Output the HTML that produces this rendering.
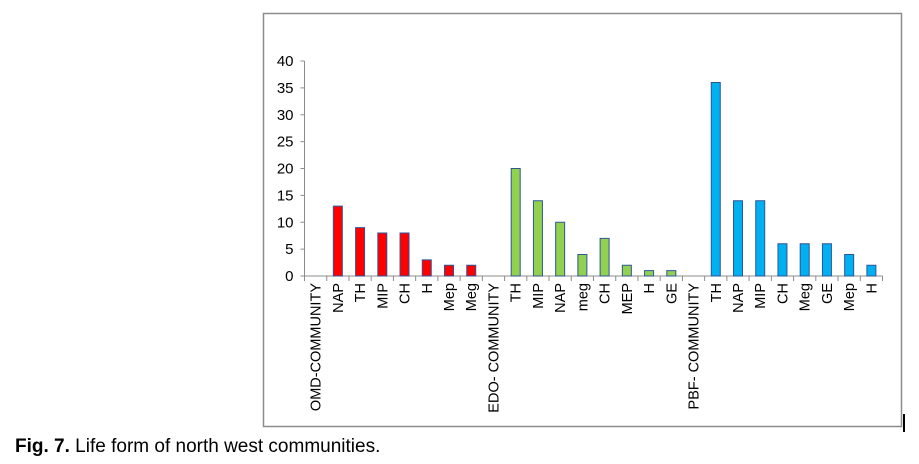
<!DOCTYPE html>
<html><head><meta charset="utf-8"><style>
body{margin:0;width:919px;height:464px;background:#fff;overflow:hidden;font-family:"Liberation Sans",sans-serif;}
</style></head><body>
<svg width="919" height="464" style="position:absolute;left:0;top:0">
<rect x="263.5" y="13.5" width="638" height="413" fill="#fff" stroke="#8c8c8c" stroke-width="1.5"/>
<line x1="904" y1="414" x2="904" y2="432" stroke="#000" stroke-width="2"/>
<g id="plot"></g>
<text x="15" y="452" font-size="19" fill="#000"><tspan font-weight="bold">Fig. 7.</tspan> Life form of north west communities.</text>
</svg>
<script>
const categories=["OMD-COMMUNITY","NAP","TH","MIP","CH","H","Mep","Meg","EDO- COMMUNITY","TH","MIP","NAP","meg","CH","MEP","H","GE","PBF- COMMUNITY","TH","NAP","MIP","CH","Meg","GE","Mep","H"];
const values=[0,13,9,8,8,3,2,2,0,20,14,10,4,7,2,1,1,0,36,14,14,6,6,6,4,2];
const groups=[0,0,0,0,0,0,0,0,1,1,1,1,1,1,1,1,1,2,2,2,2,2,2,2,2,2];
const groupColors=["#ff0000","#92d050","#00b0f0"];
const yTicks=[0,5,10,15,20,25,30,35,40];
const NS="http://www.w3.org/2000/svg";
const g=document.getElementById('plot');
const x0=304.5,x1=882.5,y0=276,yTop=61,yMax=40;
const step=(x1-x0)/categories.length;
const yS=v=>y0-(v/yMax)*(y0-yTop);
const xC=i=>x0+step*(i+0.5);
function mk(t,a){const e=document.createElementNS(NS,t);for(const k in a)e.setAttribute(k,a[k]);g.appendChild(e);return e;}
let ax=mk('line',{x1:x0,y1:yTop,x2:x0,y2:y0,stroke:'#8c8c8c'});


yTicks.forEach(v=>{
 let t=mk('line',{x1:x0-4,y1:yS(v),x2:x0,y2:yS(v),stroke:'#8c8c8c'});
 
 
 let l=mk('text',{x:x0-11,y:yS(v)+5,'font-size':15,'text-anchor':'end',fill:'#000'});
 l.textContent=v;
 
 
});
let xa=mk('line',{x1:x0,y1:y0,x2:x1,y2:y0,stroke:'#8c8c8c'});


for(let i=0;i<=categories.length;i++){
 let t=mk('line',{x1:x0+step*i,y1:y0,x2:x0+step*i,y2:y0+5,stroke:'#8c8c8c'});
 
 
}
categories.forEach((c,i)=>{
 const v=values[i];
 if(v>0){
  let b=mk('rect',{x:xC(i)-4.5,y:yS(v),width:9,height:y0-yS(v),fill:groupColors[groups[i]],stroke:'#2f5597','stroke-width':1});
  
  
 }
 let l=mk('text',{x:0,y:0,'font-size':14.5,'text-anchor':'end',fill:'#000',textLength:null,transform:`translate(${xC(i)+5},283) rotate(-90)`});
 l.removeAttribute('textLength');
 l.textContent=c;
 
 
});
</script>
</body></html>
